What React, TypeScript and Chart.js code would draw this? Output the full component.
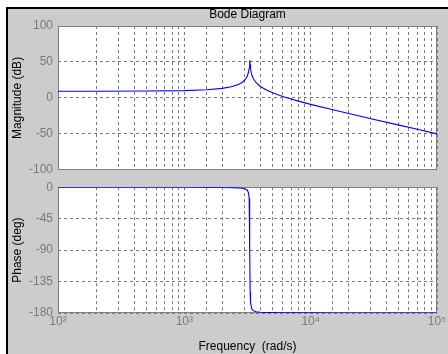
import React, { useEffect, useRef } from "react";
import { Chart, registerables } from "chart.js";

Chart.register(...registerables);

// Frequency samples (rad/s)
const freq = [
  100, 200, 500, 1000, 1500, 2000, 2400, 2700, 2900, 3050, 3150, 3220, 3260, 3280,
  3300, 3320, 3340, 3400, 3500, 3700, 4000, 4500, 5000, 6000, 7000, 8000, 10000,
  15000, 20000, 30000, 50000, 70000, 100000,
];
// Magnitude (dB)
const magDb = [
  9.3, 9.3, 9.5, 10.1, 11.3, 13.3, 15.8, 18.9, 22.1, 26.0, 30.3, 35.7, 41.3, 46.4,
  52.4, 46.3, 41.2, 33.5, 27.4, 21.1, 15.9, 10.6, 7.1, 2.0, -1.6, -4.5, -9.0,
  -16.6, -21.8, -28.9, -37.9, -43.7, -50.0,
];
// Phase (deg)
const phaseDeg = [
  0, 0, -0.1, -0.1, -0.2, -0.4, -0.6, -1.0, -1.5, -2.5, -4.3, -8.1, -16, -30,
  -90, -150, -164, -173.3, -176.6, -178.3, -179.0, -179.3, -179.5, -179.6, -179.7, -179.8, -179.8,
  -179.9, -179.9, -180, -180, -180, -180,
];
const xRange = [100, 100000];
const magTicks = [-100, -50, 0, 50, 100];
const phaseTicks = [-180, -135, -90, -45, 0];
const supers: Record<number, string> = { 2: "\u00B2", 3: "\u00B3", 4: "\u2074", 5: "\u2075" };

const FONT = '"Liberation Sans", Arial, Helvetica, sans-serif';
const GRID = "#7a7a7a";
const TICKC = "#7a7a7a";

const framePlugin = {
  id: "frame",
  beforeDraw(chart: any) {
    const { ctx, chartArea: a } = chart;
    ctx.save();
    ctx.fillStyle = "#ffffff";
    ctx.fillRect(a.left, a.top, a.right - a.left, a.bottom - a.top);
    ctx.restore();
  },
  beforeDatasetsDraw(chart: any) {
    const { ctx, chartArea: a } = chart;
    ctx.save();
    ctx.strokeStyle = "#808080";
    ctx.lineWidth = 1;
    ctx.strokeRect(Math.round(a.left) + 0.5, Math.round(a.top) + 0.5, Math.round(a.right - a.left) - 1, Math.round(a.bottom - a.top) - 1);
    ctx.restore();
  },
};

function xScale(showLabels: boolean, axisHeight: number) {
  return {
    type: "logarithmic",
    min: xRange[0],
    max: xRange[1],
    grid: { color: GRID, lineWidth: 1, drawTicks: false },
    border: { display: false, dash: [3, 3] },
    ticks: {
      display: showLabels,
      autoSkip: false,
      maxRotation: 0,
      padding: 1,
      color: TICKC,
      font: { family: FONT, size: 12 },
      callback: (v: number) => {
        const e = Math.log10(v);
        const r = Math.round(e);
        return Math.abs(e - r) < 1e-9 ? "10" + (supers[r] || "") : "";
      },
    },
    title: showLabels
      ? { display: true, text: "Frequency  (rad/s)", color: "#000", font: { family: FONT, size: 12 }, padding: { top: 0, bottom: 0 } }
      : { display: false },
    afterFit: (s: any) => {
      s.height = axisHeight;
    },
  };
}

function yScale(min: number, max: number, step: number, ticksArr: number[], label: string) {
  return {
    type: "linear",
    min,
    max,
    afterBuildTicks: (s: any) => {
      s.ticks = ticksArr.map((v) => ({ value: v }));
    },
    grid: { color: GRID, lineWidth: 1, drawTicks: false },
    border: { display: false, dash: [3, 3] },
    ticks: { stepSize: step, padding: 5, color: TICKC, font: { family: FONT, size: 12 } },
    title: { display: true, text: label, color: "#000", font: { family: FONT, size: 12 }, padding: { top: 10, bottom: 0 } },
    afterFit: (s: any) => {
      s.width = 58;
    },
  };
}

export default function App() {
  const magRef = useRef<HTMLCanvasElement>(null);
  const phRef = useRef<HTMLCanvasElement>(null);

  useEffect(() => {
    const magData = freq.map((f, i) => ({ x: f, y: magDb[i] }));
    const phData = freq.map((f, i) => ({ x: f, y: phaseDeg[i] }));

    const c1 = new Chart(magRef.current!, {
      type: "line",
      data: { datasets: [{ data: magData, borderColor: "#0000ff", borderWidth: 1.1, pointRadius: 0, tension: 0 }] },
      options: {
        animation: false,
        responsive: false,
        devicePixelRatio: 1,
        layout: { padding: { left: 0, right: 11, top: 0, bottom: 9 } },
        plugins: {
          legend: { display: false },
          tooltip: { enabled: false },
          title: {
            display: true,
            text: "Bode Diagram",
            fullSize: false,
            color: "#000",
            font: { family: FONT, size: 12, weight: "normal" },
            padding: { top: 7, bottom: 4.6 },
          },
        },
        scales: {
          x: xScale(false, 0) as any,
          y: yScale(-100, 100, 50, magTicks, "Magnitude (dB)") as any,
        },
      } as any,
      plugins: [framePlugin],
    });

    const c2 = new Chart(phRef.current!, {
      type: "line",
      data: { datasets: [{ data: phData, borderColor: "#0000ff", borderWidth: 1.1, pointRadius: 0, tension: 0 }] },
      options: {
        animation: false,
        responsive: false,
        devicePixelRatio: 1,
        layout: { padding: { left: 0, right: 11, top: 9, bottom: 0 } },
        plugins: { legend: { display: false }, tooltip: { enabled: false } },
        scales: {
          x: xScale(true, 41) as any,
          y: yScale(-180, 0, 45, phaseTicks, "Phase (deg)") as any,
        },
      } as any,
      plugins: [framePlugin],
    });

    return () => {
      c1.destroy();
      c2.destroy();
    };
  }, []);

  return (
    <div style={{ position: "fixed", left: 0, top: 0, width: 448, height: 354, background: "#fff", overflow: "hidden" }}>
      <div style={{ position: "absolute", left: 6, top: 7, right: 0, bottom: 0, background: "#000" }} />
      <div style={{ position: "absolute", left: 8, top: 9, right: 0, bottom: 0, background: "#cccccc" }} />
      <canvas ref={magRef} width={448} height={182} style={{ position: "absolute", left: 0, top: 0, width: 448, height: 182 }} />
      <canvas ref={phRef} width={448} height={179} style={{ position: "absolute", left: 0, top: 175, width: 448, height: 179 }} />
    </div>
  );
}
